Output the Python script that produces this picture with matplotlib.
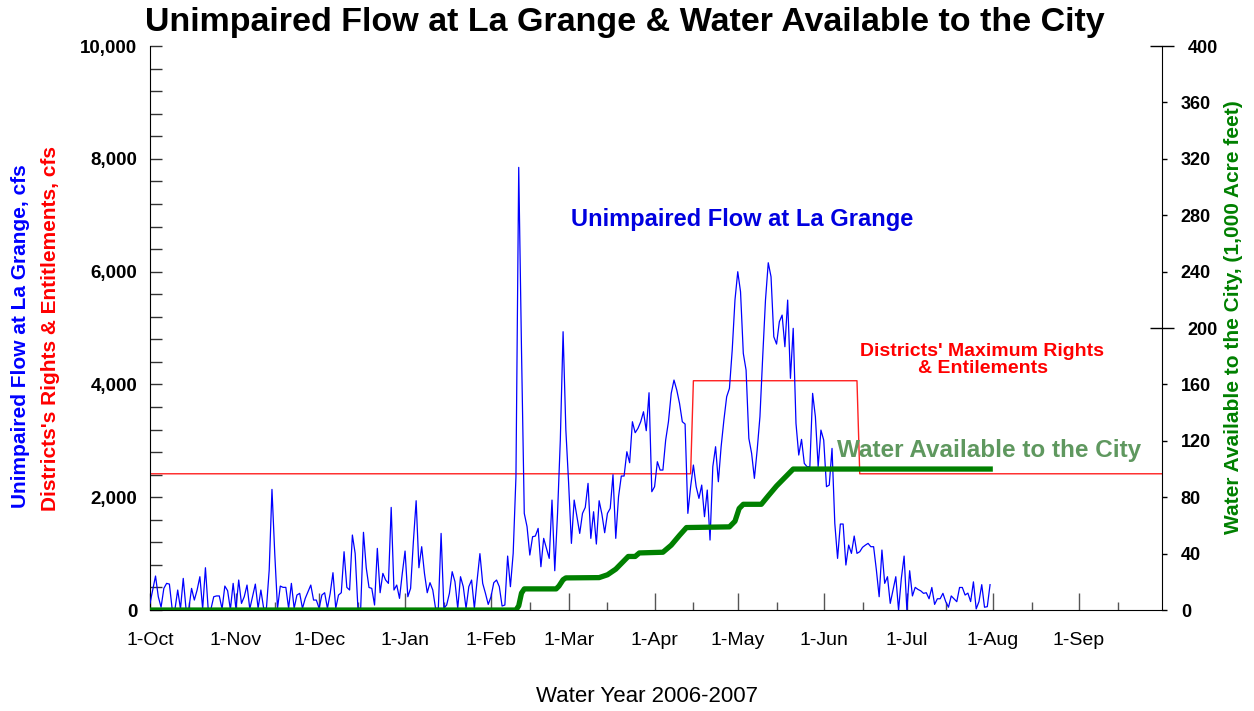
import numpy as np
import matplotlib
matplotlib.use('Agg')
import matplotlib.pyplot as plt

plt.rcParams['font.family'] = ['Liberation Sans', 'DejaVu Sans']

# daily unimpaired flow at La Grange (cfs), 1-Oct-2006 .. 31-Jul-2007
flow = [
    118, 360, 603, 236, 50, 384, 473, 460, 20, 10,
    355, 20, 561, 20, 20, 384, 177, 355, 591, 20,
    750, 10, 20, 236, 250, 250, 20, 425, 343, 10,
    473, 20, 532, 118, 236, 443, 20, 236, 460, 30,
    355, 30, 30, 709, 2139, 1005, 30, 425, 402, 402,
    30, 473, 30, 266, 296, 30, 207, 325, 443, 177,
    177, 30, 266, 307, 30, 296, 662, 30, 266, 307,
    1034, 402, 355, 1330, 1005, 30, 30, 1378, 750, 400,
    384, 89, 1093, 307, 650, 532, 473, 1820, 355, 443,
    207, 650, 1046, 236, 384, 1211, 1938, 750, 1123, 650,
    307, 485, 355, 30, 30, 1359, 30, 89, 296, 680,
    502, 30, 591, 414, 30, 414, 532, 30, 532, 1000,
    473, 296, 100, 236, 485, 532, 414, 71, 89, 957,
    414, 1005, 2364, 7849, 4610, 1714, 1478, 975, 1300, 1312,
    1448, 768, 1271, 1093, 916, 1950, 697, 1714, 3014, 4935,
    3191, 2246, 1182, 1950, 1655, 1359, 1714, 1820, 2246, 1271,
    1743, 1170, 1938, 1700, 1371, 1714, 1803, 2400, 1271, 2009,
    2376, 2376, 2807, 2612, 3339, 3144, 3221, 3339, 3516, 3180,
    3853, 2098, 2187, 2630, 2482, 2482, 3014, 3339, 3842, 4078,
    3901, 3664, 3339, 3298, 1714, 2187, 2571, 2187, 1980, 2216,
    1655, 2128, 1241, 2541, 2896, 2275, 2896, 3369, 3782, 3930,
    4610, 5500, 5999, 5644, 4551, 4255, 3044, 2778, 2335, 2837,
    3428, 4492, 5496, 6158, 5910, 4846, 4716, 5112, 5230, 4669,
    5496, 4108, 4995, 3310, 2748, 3026, 2600, 2541, 2541, 3842,
    3428, 2541, 3191, 3014, 2187, 2216, 2866, 1537, 916, 1525,
    1525, 798, 1152, 1005, 1312, 1005, 1034, 1112, 1150, 1182,
    1123, 1123, 709, 236, 1064, 473, 591, 118, 355, 591,
    0, 561, 957, 0, 697, 250, 402, 366, 340, 296,
    307, 200, 400, 100, 200, 200, 296, 150, 50, 250,
    200, 148, 400, 400, 266, 300, 150, 500, 20, 150,
    450, 50, 60, 450,
]

# districts' rights & entitlements (cfs), step line
rights_days = [0, 195, 196, 255, 256, 365]
rights_cfs = [2416, 2416, 4066, 4066, 2416, 2416]

# water available to the city (1,000 acre feet), cumulative
city_days = [0, 132, 133, 134, 135, 146.5, 147.5, 149, 150, 162, 165, 168, 171,
             172.5, 175, 176.5, 185, 188, 191, 193.5, 209, 211, 212.5, 214,
             220.5, 223, 226, 229.5, 232, 304]
city_kaf = [0, 0, 3, 12, 15, 15, 17, 21.5, 22.8, 23, 25, 29, 35,
            38, 38, 40.5, 41, 46, 53, 58.5, 59, 63, 72, 75,
            75, 81, 88, 95, 100, 100]

month_days = [0, 31, 61, 92, 123, 151, 182, 212, 243, 273, 304, 335]
month_labels = ['1-Oct', '1-Nov', '1-Dec', '1-Jan', '1-Feb', '1-Mar',
                '1-Apr', '1-May', '1-Jun', '1-Jul', '1-Aug', '1-Sep']

fig = plt.figure(figsize=(12.54, 7.11), dpi=100)
ax = fig.add_axes([0.1196, 0.142, 0.807, 0.7932])
ax2 = ax.twinx()

days = np.arange(len(flow))
ax.plot(rights_days, rights_cfs, color='#ff2020', lw=1.0, zorder=2)
ax.plot(days, flow, color='#0000ff', lw=0.9, zorder=3)
ax2.plot(city_days, city_kaf, color='#008000', lw=3.8, solid_capstyle='butt')

ax.set_xlim(0, 365)
ax.set_ylim(0, 10000)
ax2.set_ylim(0, 400)

for s in ['top', 'right']:
    ax.spines[s].set_visible(False)
for s in ['top', 'left', 'bottom']:
    ax2.spines[s].set_visible(False)

# left axis
ax.set_yticks(np.arange(0, 10001, 2000))
ax.set_yticklabels(['{:,}'.format(v) for v in range(0, 10001, 2000)],
                   fontweight='bold', fontsize=13.5)
ax.set_yticks(np.arange(0, 10001, 400), minor=True)
ax.tick_params(axis='y', which='both', direction='in', length=8.5,
               width=1, color='#333333', pad=9)

# x axis
ax.set_xticks(month_days)
ax.set_xticklabels(month_labels, fontsize=14)
ax.set_xticks([d + 14 for d in month_days], minor=True)
ax.tick_params(axis='x', which='major', direction='in', length=12,
               width=1, color='#555555', pad=16)
ax.tick_params(axis='x', which='minor', direction='in', length=6,
               width=1, color='#555555')

# right axis
ax2.set_yticks([200, 400])
ax2.set_yticklabels(['200', '400'], fontweight='bold', fontsize=13)
minor_r = [v for v in range(0, 400, 40) if v != 200]
ax2.set_yticks(minor_r, minor=True)
ax2.set_yticklabels([str(v) for v in minor_r], minor=True,
                    fontweight='bold', fontsize=13)
ax2.tick_params(axis='y', which='major', direction='inout', length=17,
                width=1, color='black', pad=10)
ax2.tick_params(axis='y', which='minor', direction='out', length=3.6,
                width=1, color='black', pad=10)

fig.text(0.498, 0.969, 'Unimpaired Flow at La Grange & Water Available to the City',
         ha='center', va='center', fontsize=24.5, fontweight='bold')
fig.text(0.5917, 0.6906, 'Unimpaired Flow at La Grange', color='#0000e0',
         ha='center', va='center', fontsize=17, fontweight='bold')
fig.text(0.7831, 0.5063, "Districts' Maximum Rights", color='red',
         ha='center', va='center', fontsize=14, fontweight='bold')
fig.text(0.7839, 0.4824, '& Entilements', color='red',
         ha='center', va='center', fontsize=14, fontweight='bold')
fig.text(0.6675, 0.3657, 'Water Available to the City', color='#5f985f',
         ha='left', va='center', fontsize=17.5, fontweight='bold')

fig.text(0.016, 0.5267, 'Unimpaired Flow at La Grange, cfs', color='#0000ff',
         rotation=90, ha='center', va='center', fontsize=15, fontweight='bold')
fig.text(0.0399, 0.538, "Districts's Rights & Entitlements, cfs", color='red',
         rotation=90, ha='center', va='center', fontsize=15, fontweight='bold')
fig.text(0.984, 0.5534, 'Water Available to the City, (1,000 Acre feet)',
         color='#008000', rotation=90, ha='center', va='center',
         fontsize=15, fontweight='bold')

fig.text(0.516, 0.0197, 'Water Year 2006-2007', ha='center', va='center',
         fontsize=16)

fig.savefig('out.png', dpi=100)
